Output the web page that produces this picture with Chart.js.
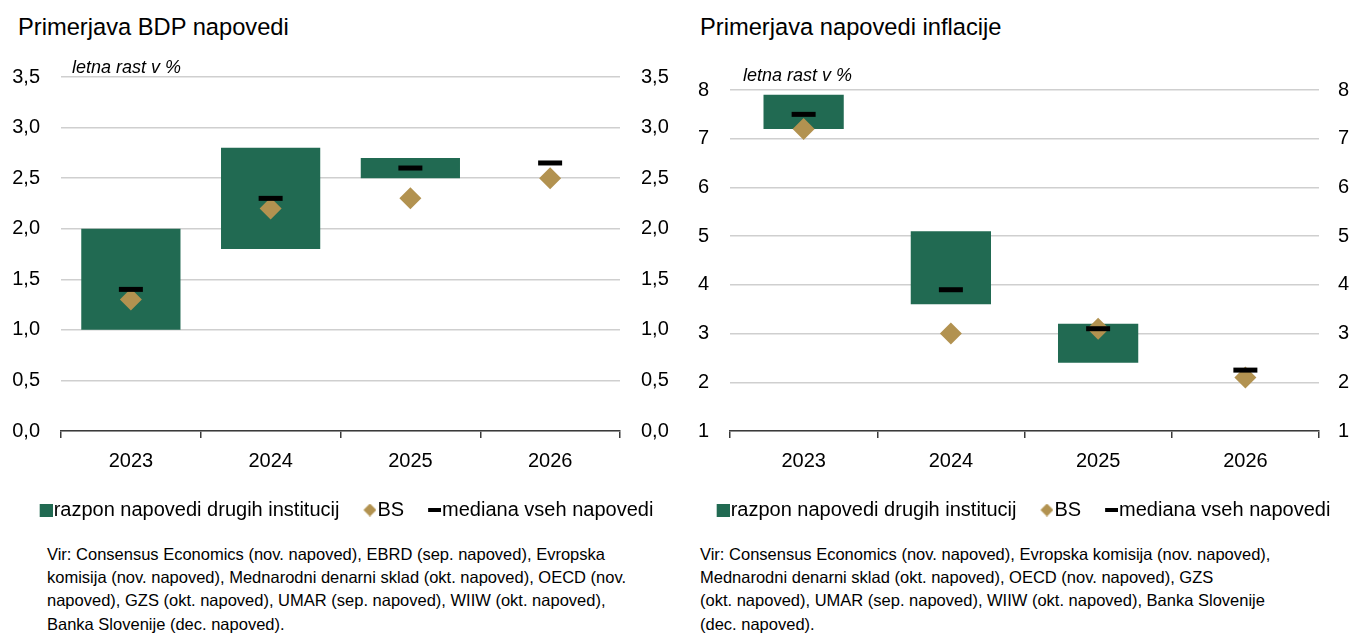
<!DOCTYPE html>
<html lang="sl">
<head>
<meta charset="utf-8">
<title>Primerjava napovedi</title>
<script src="https://cdn.jsdelivr.net/npm/chart.js@4.4.1/dist/chart.umd.min.js"></script>
<style>
  html, body { margin: 0; padding: 0; background: #fff; }
  body { width: 1353px; height: 641px; position: relative; overflow: hidden;
         font-family: "Liberation Sans", Arial, sans-serif; color: #000; }
  .naslov { position: absolute; top: 16px; font-size: 23.7px; line-height: 23.7px; white-space: nowrap; }
  .enota { position: absolute; font-size: 18px; line-height: 18px; font-style: italic; white-space: nowrap; }
  .vir { position: absolute; top: 543px; font-size: 16.5px; line-height: 23.2px; white-space: nowrap; }
  .graf { position: absolute; top: 40px; height: 500px; }
</style>
</head>
<body>
<div class="naslov" style="left:18px">Primerjava BDP napovedi</div>
<div class="naslov" style="left:700px">Primerjava napovedi inflacije</div>

<div class="graf" style="left:0; width:689px"><canvas id="bdp-chart"></canvas></div>
<div class="graf" style="left:678px; width:675px"><canvas id="inflacija-chart"></canvas></div>

<div class="enota" style="left:72px; top:57.5px">letna rast v %</div>
<div class="enota" style="left:743px; top:66px">letna rast v %</div>

<div class="vir" style="left:47px">Vir: Consensus Economics (nov. napoved), EBRD (sep. napoved), Evropska<br>komisija (nov. napoved), Mednarodni denarni sklad (okt. napoved), OECD (nov.<br>napoved), GZS (okt. napoved), UMAR (sep. napoved), WIIW (okt. napoved),<br>Banka Slovenije (dec. napoved).</div>
<div class="vir" style="left:700px">Vir: Consensus Economics (nov. napoved), Evropska komisija (nov. napoved),<br>Mednarodni denarni sklad (okt. napoved), OECD (nov. napoved), GZS<br>(okt. napoved), UMAR (sep. napoved), WIIW (okt. napoved), Banka Slovenije<br>(dec. napoved).</div>

<script>
// Leta napovedi
var leta = ["2023", "2024", "2025", "2026"];

// BDP: razpon drugih institucij, BS in mediana
var bdpSpodaj = [1.0, 1.8, 2.5, null];
var bdpZgoraj = [2.0, 2.8, 2.7, null];
var bdpBS = [1.3, 2.2, 2.3, 2.5];
var bdpMediana = [1.4, 2.3, 2.6, 2.65];

// Inflacija: razpon drugih institucij, BS in mediana
var infSpodaj = [7.2, 3.6, 2.4, null];
var infZgoraj = [7.9, 5.1, 3.2, null];
var infBS = [7.2, 3.0, 3.1, 2.1];
var infMediana = [7.5, 3.9, 3.1, 2.25];

var legendaBesedila = ["razpon napovedi drugih institucij", "BS", "mediana vseh napovedi"];

var zelena = "#216a52";
var zlata = "#b29250";

Chart.defaults.font.family = "'Liberation Sans', Arial, sans-serif";
Chart.defaults.font.size = 20;
Chart.defaults.color = "#000";

// Ikone za legendo: oblika je desno, levo je prazen prostor (razmik med elementi)
var SIRINA_OKVIRJA = 26;
function ikona(w, h, risi) {
    var c = document.createElement("canvas");
    c.width = SIRINA_OKVIRJA + 12;
    c.height = h;
    var g = c.getContext("2d");
    g.translate(c.width - w, 0);
    risi(g, w, h);
    return c;
}
var ikonaKvadrat = ikona(13, 13, function (g, w, h) {
    g.fillStyle = zelena;
    g.fillRect(0, 0, w, h);
});
var ikonaRomb = ikona(13, 13, function (g, w, h) {
    g.fillStyle = zlata;
    g.beginPath();
    g.moveTo(w / 2, 0);
    g.lineTo(w, h / 2);
    g.lineTo(w / 2, h);
    g.lineTo(0, h / 2);
    g.closePath();
    g.fill();
});
var ikonaCrta = ikona(13, 4, function (g, w, h) {
    g.fillStyle = "#000";
    g.fillRect(0, 0, w, h);
});

function legendaOznake() {
    var ikone = [ikonaKvadrat, ikonaRomb, ikonaCrta];
    return legendaBesedila.map(function (t, i) {
        return {
            text: t,
            pointStyle: ikone[i],
            fillStyle: "rgba(0,0,0,0)",
            strokeStyle: "rgba(0,0,0,0)",
            lineWidth: 0,
            hidden: false,
            datasetIndex: i
        };
    });
}

function narediGraf(id, spodaj, zgoraj, bs, mediana, os, sirinaStolpca, odmik) {
    var razpon = spodaj.map(function (v, i) {
        return v === null ? null : [v, zgoraj[i]];
    });
    var ySkala = function (pozicija, sirina, razmik) {
        return {
            position: pozicija,
            min: os.min,
            max: os.max,
            afterFit: function (s) { s.width = sirina; },
            grid: {
                drawOnChartArea: pozicija === "left",
                drawTicks: false,
                color: "#cfcfcf",
                lineWidth: 1.5
            },
            border: { display: false },
            ticks: {
                stepSize: os.korak,
                padding: razmik,
                callback: os.oznaka
            }
        };
    };

    return new Chart(document.getElementById(id), {
        type: "bar",
        data: {
            labels: leta,
            datasets: [{
                label: legendaBesedila[0],
                data: razpon,
                backgroundColor: zelena,
                borderWidth: 0,
                barPercentage: sirinaStolpca,
                categoryPercentage: 1,
                order: 3
            }, {
                type: "line",
                label: legendaBesedila[1],
                data: bs,
                showLine: false,
                pointStyle: "rectRot",
                pointRadius: 11,
                pointHoverRadius: 11,
                pointBackgroundColor: zlata,
                pointBorderWidth: 0,
                clip: false,
                order: 2
            }, {
                type: "line",
                label: legendaBesedila[2],
                data: mediana,
                showLine: false,
                pointStyle: "line",
                pointRadius: 12,
                pointHoverRadius: 12,
                pointBorderColor: "#000",
                pointBorderWidth: 5,
                clip: false,
                order: 1
            }]
        },
        options: {
            responsive: true,
            maintainAspectRatio: false,
            animation: false,
            layout: { padding: odmik },
            plugins: {
                tooltip: { enabled: false },
                legend: {
                    position: "bottom",
                    onClick: null,
                    labels: {
                        usePointStyle: true,
                        boxWidth: SIRINA_OKVIRJA,
                        boxHeight: 20,
                        padding: 8,
                        font: { size: 20 },
                        generateLabels: legendaOznake
                    }
                }
            },
            scales: {
                x: {
                    offset: true,
                    afterFit: function (s) { s.height += 8; },
                    grid: {
                        offset: true,
                        drawOnChartArea: false,
                        drawTicks: true,
                        tickLength: 7,
                        color: "#3a3a3a",
                        lineWidth: 1.5
                    },
                    border: { color: "#3a3a3a", width: 1.5 },
                    ticks: { padding: 11 }
                },
                y: ySkala("left", os.levo, 21),
                y2: ySkala("right", os.desno, os.desniRazmik)
            }
        }
    });
}

var bdpGraf = narediGraf("bdp-chart", bdpSpodaj, bdpZgoraj, bdpBS, bdpMediana, {
    min: 0, max: 3.5, korak: 0.5,
    oznaka: function (v) { return v.toFixed(1).replace(".", ","); },
    levo: 61, desno: 57, desniRazmik: 21
}, 0.71, { left: 0, right: 12, top: 37, bottom: 10 });

var inflacijaGraf = narediGraf("inflacija-chart", infSpodaj, infZgoraj, infBS, infMediana, {
    min: 1, max: 8, korak: 1,
    oznaka: function (v) { return String(v); },
    levo: 52, desno: 34, desniRazmik: 19
}, 0.545, { left: 0, right: 0, top: 50, bottom: 10 });
</script>
</body>
</html>
